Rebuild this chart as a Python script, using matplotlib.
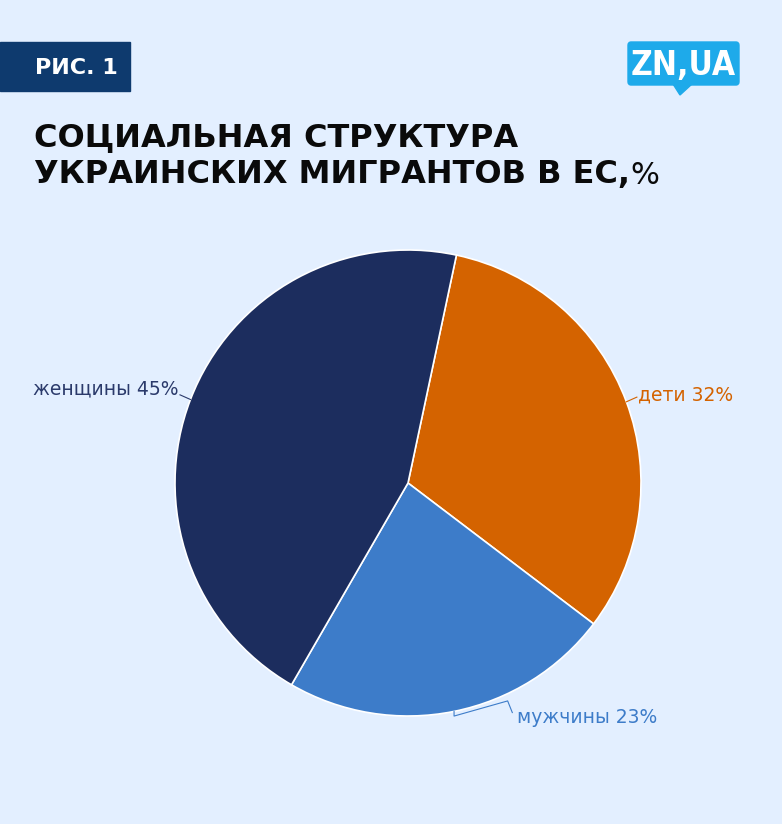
import matplotlib
matplotlib.use("Agg")
import matplotlib.pyplot as plt
from matplotlib.patches import Rectangle, Polygon, FancyBboxPatch
import numpy as np

# data
labels = ["дети", "мужчины", "женщины"]
shares = [32, 23, 45]
colors = ["#d46300", "#3d7cc9", "#1c2d5e"]
label_colors = ["#d46300", "#3d7cc9", "#2b3a6b"]

BG = "#e3efff"
W, H = 782, 824

fig = plt.figure(figsize=(W / 100, H / 100), dpi=100, facecolor=BG)


def fx(px):
    return px / W


def fy(py):
    return 1 - py / H


# header tag
fig.patches.append(Rectangle((0, fy(91)), fx(130), (91 - 42) / H,
                             transform=fig.transFigure, color="#0e3a6e"))
fig.text(fx(76), fy(68), "РИС. 1", color="white", fontsize=16, fontweight="bold",
         ha="center", va="center", family="DejaVu Sans")

# logo
fig.patches.append(FancyBboxPatch((fx(628), fy(85)), fx(111), (85 - 42) / H,
                                  boxstyle="round,pad=0,rounding_size=0.004",
                                  transform=fig.transFigure, color="#1eaaea"))
fig.patches.append(Polygon([(fx(673), fy(84)), (fx(692), fy(84)), (fx(680), fy(95))],
                           closed=True, transform=fig.transFigure, color="#1eaaea"))
fig.text(fx(683), fy(65), "ZN,UA", color="white", fontsize=24, fontweight="bold",
         ha="center", va="center", family="Liberation Sans Narrow", stretch="condensed")

# title
fig.text(fx(34), fy(138), "СОЦИАЛЬНАЯ СТРУКТУРА", fontsize=23, fontweight="bold",
         ha="left", va="center", color="#0a0a0a", family="DejaVu Sans")
fig.text(fx(34), fy(175), "УКРАИНСКИХ МИГРАНТОВ В ЕС,", fontsize=23, fontweight="bold",
         ha="left", va="center", color="#0a0a0a", family="DejaVu Sans")
fig.text(fx(630), fy(175), "%", fontsize=22, ha="left", va="center",
         color="#0a0a0a", family="DejaVu Sans")

# pie
cx, cy, r = 408, 483, 233
ax = fig.add_axes([fx(cx - r), fy(cy + r), 2 * r / W, 2 * r / H])
ax.set_facecolor(BG)
wedges, _ = ax.pie(shares, colors=colors, startangle=78, counterclock=False,
                   radius=1, wedgeprops=dict(edgecolor="white", linewidth=1.2))
ax.set_xlim(-1, 1)
ax.set_ylim(-1, 1)
ax.set_aspect("equal")
ax.axis("off")

lab_font = dict(fontsize=13.5, family="DejaVu Sans", va="center")
for w, lab, s, c in zip(wedges, labels, shares, label_colors):
    mid = np.deg2rad((w.theta1 + w.theta2) / 2)
    x0, y0 = np.cos(mid), np.sin(mid)
    txt = f"{lab} {s}%"
    if x0 < -0.5:  # left side
        x1, y1 = x0 - 0.045, y0 + 0.02
        ax.plot([x0, x1], [y0, y1], color=c, lw=0.8, clip_on=False)
        ax.text(x1 - 0.005, y1 + 0.025, txt, color=c, ha="right", **lab_font)
    elif y0 > -0.5:  # right side
        x1, y1 = x0 + 0.045, y0 + 0.02
        ax.plot([x0, x1], [y0, y1], color=c, lw=0.8, clip_on=False)
        ax.text(x1 + 0.005, y1 + 0.01, txt, color=c, ha="left", **lab_font)
    else:  # bottom
        pts_x = [x0, x0, x0 + 0.23, x0 + 0.25]
        pts_y = [y0, y0 - 0.02, y0 + 0.045, y0 - 0.005]
        ax.plot(pts_x, pts_y, color=c, lw=0.8, clip_on=False)
        ax.text(x0 + 0.27, y0 - 0.025, txt, color=c, ha="left", **lab_font)

fig.savefig("out.png", dpi=100, facecolor=BG)
